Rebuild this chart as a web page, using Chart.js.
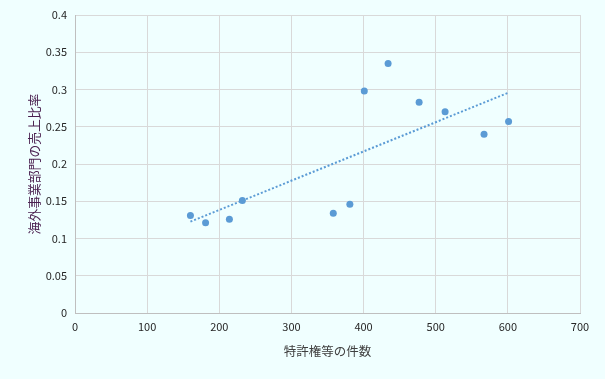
<!DOCTYPE html>
<html>
<head>
<meta charset="utf-8">
<script src="https://cdn.jsdelivr.net/npm/chart.js@4/dist/chart.umd.min.js"></script>
<style>
html,body{margin:0;padding:0;background:#F0FFFF;}
#wrap{width:605px;height:379px;position:relative;}
</style>
</head>
<body>
<div id="wrap"><canvas id="c" width="605" height="379"></canvas></div>
<script>
const patentCounts = [160, 181, 214, 232, 358, 381, 401, 434, 477, 513, 567, 601];
const salesRatios = [0.131, 0.121, 0.126, 0.151, 0.134, 0.146, 0.298, 0.335, 0.283, 0.270, 0.240, 0.257];
const xTitle = '特許権等の件数';
const yTitle = '海外事業部門の売上比率';

// linear least-squares trendline across the data range (as in the source chart)
const n = patentCounts.length;
const mx = patentCounts.reduce((a,b)=>a+b,0)/n;
const my = salesRatios.reduce((a,b)=>a+b,0)/n;
let sxy = 0, sxx = 0;
for (let i=0;i<n;i++){ sxy += (patentCounts[i]-mx)*(salesRatios[i]-my); sxx += (patentCounts[i]-mx)**2; }
const slope = sxy/sxx, icpt = my - slope*mx;
const xMin = Math.min(...patentCounts), xMax = Math.max(...patentCounts);
const trend = [{x:xMin, y:icpt+slope*xMin},{x:xMax, y:icpt+slope*xMax}];

const font = "'Noto Sans CJK JP', 'Noto Sans', sans-serif";
new Chart(document.getElementById('c'), {
  type: 'scatter',
  data: {
    datasets: [
      {
        data: patentCounts.map((x,i)=>({x, y: salesRatios[i]})),
        backgroundColor: '#5B9BD5', borderColor: '#5B9BD5',
        pointRadius: 3.5, pointBorderWidth: 0, order: 1
      },
      {
        type: 'line', data: trend, showLine: true,
        borderColor: '#5B9BD5', borderWidth: 2, borderDash: [2, 2],
        pointRadius: 0, fill: false, order: 2
      }
    ]
  },
  options: {
    responsive: false, animation: false,
    layout: { padding: { left: 22, right: 25, top: 15, bottom: 16 } },
    plugins: { legend: { display: false }, tooltip: { enabled: false } },
    scales: {
      x: {
        type: 'linear', min: 0, max: 700,
        ticks: { stepSize: 100, color: '#262626', font: { family: font, size: 11 }, padding: 7 },
        grid: { color: '#D9D9D9', drawTicks: false },
        border: { color: '#BFBFBF' },
        title: { display: true, text: xTitle, color: '#404040', font: { family: font, size: 12.5 }, padding: { top: 4, bottom: 4 } },
        afterFit: s => { s.height = 50; }
      },
      y: {
        min: 0, max: 0.4,
        ticks: { stepSize: 0.05, color: '#262626', font: { family: font, size: 11 }, padding: 8,
                 callback: v => String(Math.round(v*100)/100) },
        grid: { color: '#D9D9D9', drawTicks: false },
        border: { color: '#BFBFBF' },
        title: { display: true, text: yTitle, color: '#4A2050', font: { family: font, size: 12.8 }, padding: { top: 4, bottom: 4 } },
        afterFit: s => { s.width = 53; }
      }
    }
  }
});
</script>
</body>
</html>
